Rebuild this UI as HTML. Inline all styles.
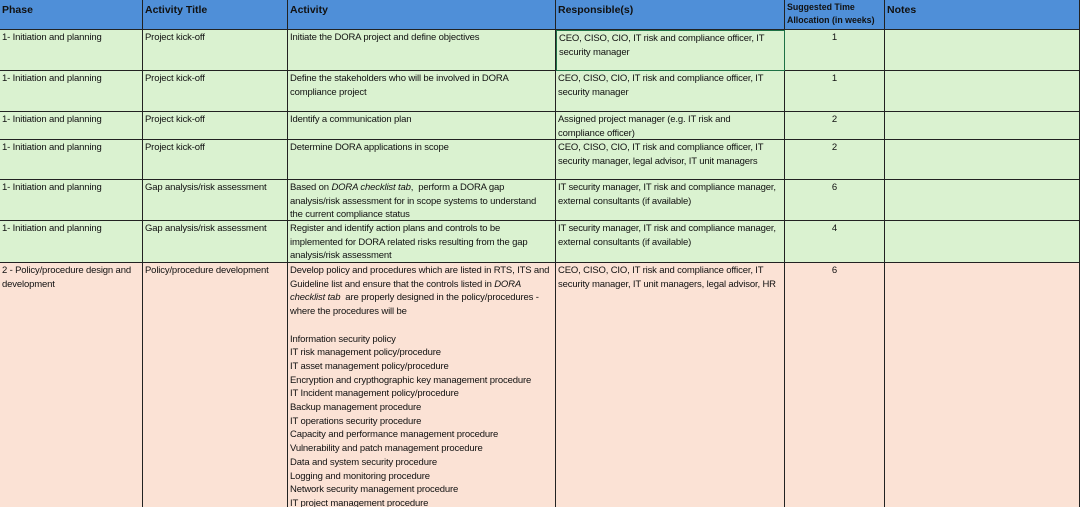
<!DOCTYPE html>
<html style="overflow:hidden;height:507px"><head><meta charset="utf-8"><style>
html,body{margin:0;width:1080px;height:507px;overflow:hidden;background:#fff;font-family:"Liberation Sans",Arial,sans-serif;}
body{position:relative}
.c{position:absolute;box-sizing:border-box;border-right:1px solid #222;border-bottom:1px solid #222;font-size:9.5px;line-height:13.7px;padding:1px 2px;color:#111;overflow:hidden;white-space:nowrap;letter-spacing:-0.15px}
.h{background:#4f8fd8;font-weight:bold;font-size:10.5px;padding:3px 2px;line-height:14px;letter-spacing:0}
.g{background:#daf2d0}
.p{background:#fbe2d5}
.n{text-align:center}
</style></head><body>
<div class="c h" style="left:0;top:0;width:143px;height:30px">Phase</div>
<div class="c h" style="left:143px;top:0;width:145px;height:30px">Activity Title</div>
<div class="c h" style="left:288px;top:0;width:268px;height:30px">Activity</div>
<div class="c h" style="left:556px;top:0;width:229px;height:30px">Responsible(s)</div>
<div class="c h" style="left:785px;top:0;width:100px;height:30px;font-size:8.8px;line-height:13px;padding:1px 2px">Suggested Time<br>Allocation (in weeks)</div>
<div class="c h" style="left:885px;top:0;width:195px;height:30px">Notes</div>

<div class="c g" style="left:0;top:30px;width:143px;height:41px">1- Initiation and planning</div>
<div class="c g" style="left:143px;top:30px;width:145px;height:41px">Project kick-off</div>
<div class="c g" style="left:288px;top:30px;width:268px;height:41px">Initiate the DORA project and define objectives</div>
<div class="c g" style="left:556px;top:30px;width:229px;height:41px;border:1px solid #1e7145">CEO, CISO, CIO, IT risk and compliance officer, IT<br>security manager</div>
<div class="c g n" style="left:785px;top:30px;width:100px;height:41px">1</div>
<div class="c g" style="left:885px;top:30px;width:195px;height:41px"></div>

<div class="c g" style="left:0;top:71px;width:143px;height:41px">1- Initiation and planning</div>
<div class="c g" style="left:143px;top:71px;width:145px;height:41px">Project kick-off</div>
<div class="c g" style="left:288px;top:71px;width:268px;height:41px">Define the stakeholders who will be involved in DORA<br>compliance project</div>
<div class="c g" style="left:556px;top:71px;width:229px;height:41px">CEO, CISO, CIO, IT risk and compliance officer, IT<br>security manager</div>
<div class="c g n" style="left:785px;top:71px;width:100px;height:41px">1</div>
<div class="c g" style="left:885px;top:71px;width:195px;height:41px"></div>

<div class="c g" style="left:0;top:112px;width:143px;height:28px">1- Initiation and planning</div>
<div class="c g" style="left:143px;top:112px;width:145px;height:28px">Project kick-off</div>
<div class="c g" style="left:288px;top:112px;width:268px;height:28px">Identify a communication plan</div>
<div class="c g" style="left:556px;top:112px;width:229px;height:28px">Assigned project manager (e.g. IT risk and<br>compliance officer)</div>
<div class="c g n" style="left:785px;top:112px;width:100px;height:28px">2</div>
<div class="c g" style="left:885px;top:112px;width:195px;height:28px"></div>

<div class="c g" style="left:0;top:140px;width:143px;height:40px">1- Initiation and planning</div>
<div class="c g" style="left:143px;top:140px;width:145px;height:40px">Project kick-off</div>
<div class="c g" style="left:288px;top:140px;width:268px;height:40px">Determine DORA applications in scope</div>
<div class="c g" style="left:556px;top:140px;width:229px;height:40px">CEO, CISO, CIO, IT risk and compliance officer, IT<br>security manager, legal advisor, IT unit managers</div>
<div class="c g n" style="left:785px;top:140px;width:100px;height:40px">2</div>
<div class="c g" style="left:885px;top:140px;width:195px;height:40px"></div>

<div class="c g" style="left:0;top:180px;width:143px;height:41px">1- Initiation and planning</div>
<div class="c g" style="left:143px;top:180px;width:145px;height:41px">Gap analysis/risk assessment</div>
<div class="c g" style="left:288px;top:180px;width:268px;height:41px">Based on <i>DORA checklist tab</i>,&nbsp; perform a DORA gap<br>analysis/risk assessment for in scope systems to understand<br>the current compliance status</div>
<div class="c g" style="left:556px;top:180px;width:229px;height:41px">IT security manager, IT risk and compliance manager,<br>external consultants (if available)</div>
<div class="c g n" style="left:785px;top:180px;width:100px;height:41px">6</div>
<div class="c g" style="left:885px;top:180px;width:195px;height:41px"></div>

<div class="c g" style="left:0;top:221px;width:143px;height:42px">1- Initiation and planning</div>
<div class="c g" style="left:143px;top:221px;width:145px;height:42px">Gap analysis/risk assessment</div>
<div class="c g" style="left:288px;top:221px;width:268px;height:42px">Register and identify action plans and controls to be<br>implemented for DORA related risks resulting from the gap<br>analysis/risk assessment</div>
<div class="c g" style="left:556px;top:221px;width:229px;height:42px">IT security manager, IT risk and compliance manager,<br>external consultants (if available)</div>
<div class="c g n" style="left:785px;top:221px;width:100px;height:42px">4</div>
<div class="c g" style="left:885px;top:221px;width:195px;height:42px"></div>

<div class="c p" style="left:0;top:263px;width:143px;height:244px;border-bottom:none">2 - Policy/procedure design and<br>development</div>
<div class="c p" style="left:143px;top:263px;width:145px;height:244px;border-bottom:none">Policy/procedure development</div>
<div class="c p" style="left:288px;top:263px;width:268px;height:244px;border-bottom:none">Develop policy and procedures which are listed in RTS, ITS and<br>Guideline list and ensure that the controls listed in <i>DORA</i><br><i>checklist tab</i>&nbsp; are properly designed in the policy/procedures -<br>where the procedures will be<br><br>Information security policy<br>IT risk management policy/procedure<br>IT asset management policy/procedure<br>Encryption and crypthographic key management procedure<br>IT Incident management policy/procedure<br>Backup management procedure<br>IT operations security procedure<br>Capacity and performance management procedure<br>Vulnerability and patch management procedure<br>Data and system security procedure<br>Logging and monitoring procedure<br>Network security management procedure<br>IT project management procedure</div>
<div class="c p" style="left:556px;top:263px;width:229px;height:244px;border-bottom:none">CEO, CISO, CIO, IT risk and compliance officer, IT<br>security manager, IT unit managers, legal advisor, HR</div>
<div class="c p n" style="left:785px;top:263px;width:100px;height:244px;border-bottom:none">6</div>
<div class="c p" style="left:885px;top:263px;width:195px;height:244px;border-bottom:none"></div>
</body></html>
